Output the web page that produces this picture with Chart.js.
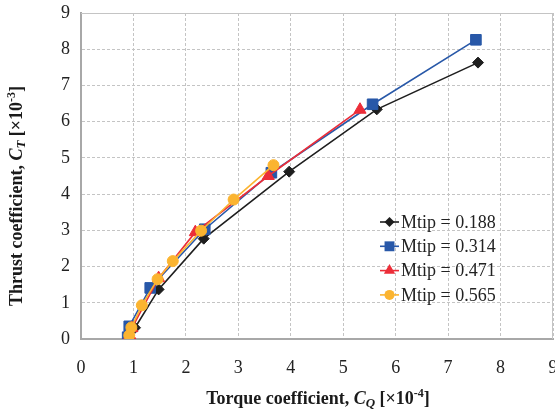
<!DOCTYPE html>
<html>
<head>
<meta charset="utf-8">
<script src="https://cdn.jsdelivr.net/npm/chart.js@4.4.1/dist/chart.umd.min.js"></script>
<style>
  html, body { margin: 0; padding: 0; background: #fff; }
  canvas { display: block; }
</style>
</head>
<body>
<canvas id="thrustChart" width="555" height="412"></canvas>
<script>
// Thrust vs torque coefficient for four tip Mach numbers
const seriesLabels = ["Mtip = 0.188", "Mtip = 0.314", "Mtip = 0.471", "Mtip = 0.565"];

const cq188 = [1.03, 1.48, 2.34, 3.97, 5.64, 7.57];
const ct188 = [0.31, 1.37, 2.77, 4.62, 6.34, 7.63];

const cq314 = [0.89, 0.92, 1.32, 2.36, 3.63, 5.56, 7.53];
const ct314 = [0.05, 0.35, 1.41, 3.03, 4.59, 6.48, 8.26];

const cq471 = [0.93, 0.97, 1.48, 2.18, 3.57, 5.32];
const ct471 = [0.10, 0.30, 1.68, 2.95, 4.50, 6.33];

const cq565 = [0.92, 0.96, 1.16, 1.46, 1.75, 2.29, 2.91, 3.67];
const ct565 = [0.10, 0.32, 0.93, 1.65, 2.15, 2.99, 3.85, 4.80];

const xTicks = [0, 1, 2, 3, 4, 5, 6, 7, 8, 9];
const yTicks = [0, 1, 2, 3, 4, 5, 6, 7, 8, 9];

const serif = "'Liberation Serif', 'Times New Roman', serif";

function toPoints(xs, ys) {
  return xs.map((x, i) => ({ x: x, y: ys[i] }));
}

const styles = [
  { color: "#1e1e1e", marker: "rectRot", radius: 5.5, order: 4 },
  { color: "#2858a8", marker: "rect", radius: 7.5, order: 3 },
  { color: "#ec2d38", marker: "triangle", radius: 7, order: 2 },
  { color: "#fbb430", marker: "circle", radius: 5.5, order: 1 }
];

const seriesData = [
  toPoints(cq188, ct188),
  toPoints(cq314, ct314),
  toPoints(cq471, ct471),
  toPoints(cq565, ct565)
];

const datasets = seriesData.map((pts, i) => ({
  label: seriesLabels[i],
  data: pts,
  showLine: true,
  borderColor: styles[i].color,
  backgroundColor: styles[i].color,
  borderWidth: 1.6,
  pointStyle: styles[i].marker,
  pointRadius: styles[i].radius,
  pointBorderWidth: 1,
  pointBackgroundColor: styles[i].color,
  pointBorderColor: styles[i].color,
  order: styles[i].order
}));

// small marker painter used by the legend
function drawMarker(ctx, style, x, y, r) {
  ctx.beginPath();
  if (style === "circle") {
    ctx.arc(x, y, r, 0, Math.PI * 2);
  } else if (style === "rect") {
    const s = r * Math.SQRT1_2;
    ctx.rect(x - s, y - s, 2 * s, 2 * s);
  } else if (style === "rectRot") {
    ctx.moveTo(x, y - r);
    ctx.lineTo(x + r, y);
    ctx.lineTo(x, y + r);
    ctx.lineTo(x - r, y);
    ctx.closePath();
  } else if (style === "triangle") {
    ctx.moveTo(x, y - r);
    ctx.lineTo(x + r * Math.sin(Math.PI / 3), y + r / 2);
    ctx.lineTo(x - r * Math.sin(Math.PI / 3), y + r / 2);
    ctx.closePath();
  }
  ctx.fill();
}

const boxLegend = {
  id: "boxLegend",
  afterDraw(chart) {
    const ctx = chart.ctx;
    ctx.save();
    ctx.font = "18px " + serif;
    ctx.textBaseline = "middle";
    ctx.textAlign = "left";
    seriesLabels.forEach((label, i) => {
      const y = 222 + i * 24.3;
      const st = styles[i];
      ctx.strokeStyle = st.color;
      ctx.fillStyle = st.color;
      ctx.lineWidth = 1.6;
      ctx.beginPath();
      ctx.moveTo(380, y);
      ctx.lineTo(399, y);
      ctx.stroke();
      drawMarker(ctx, st.marker, 389.5, y, st.marker === "rect" ? 7 : (st.marker === "triangle" ? 6.5 : 5));
      ctx.fillStyle = "#222";
      ctx.fillText(label, 401, y + 1);
    });
    ctx.restore();
  }
};

// axis titles with italic symbol, subscript and exponent
function drawRich(ctx, parts) {
  const widths = parts.map(p => {
    ctx.font = p.font;
    return ctx.measureText(p.text).width;
  });
  const total = widths.reduce((a, b) => a + b, 0);
  let x = -total / 2;
  parts.forEach((p, i) => {
    ctx.font = p.font;
    ctx.fillText(p.text, x, p.dy || 0);
    x += widths[i];
  });
}

const axisText = {
  id: "axisText",
  afterDraw(chart) {
    const ctx = chart.ctx;
    const b = "bold 18px " + serif;
    const bi = "italic bold 18px " + serif;
    const sm = "bold 12px " + serif;
    const smi = "italic bold 13px " + serif;
    ctx.save();
    ctx.fillStyle = "#1a1a1a";
    ctx.textBaseline = "alphabetic";
    ctx.textAlign = "left";

    // x tick labels, placed by the x scale (the last one runs off the canvas edge)
    const xs = chart.scales.x;
    ctx.font = "18px " + serif;
    ctx.textAlign = "center";
    ctx.fillStyle = "#222";
    xTicks.forEach(v => {
      ctx.fillText(String(v), xs.getPixelForValue(v), 373);
    });
    ctx.textAlign = "left";
    ctx.fillStyle = "#1a1a1a";

    ctx.save();
    ctx.translate(318, 404);
    drawRich(ctx, [
      { text: "Torque coefficient, ", font: b },
      { text: "C", font: bi },
      { text: "Q", font: smi, dy: 3 },
      { text: " [×10", font: b },
      { text: "-4", font: sm, dy: -7 },
      { text: "]", font: b }
    ]);
    ctx.restore();

    ctx.save();
    ctx.translate(22, 196);
    ctx.rotate(-Math.PI / 2);
    drawRich(ctx, [
      { text: "Thrust coefficient, ", font: b },
      { text: "C", font: bi },
      { text: "T", font: smi, dy: 3 },
      { text: " [×10", font: b },
      { text: "-3", font: sm, dy: -7 },
      { text: "]", font: b }
    ]);
    ctx.restore();

    // light frame on top and right of the plot area
    const a = chart.chartArea;
    ctx.strokeStyle = "#c4c4c4";
    ctx.lineWidth = 1;
    ctx.beginPath();
    ctx.moveTo(a.left, a.top + 0.5);
    ctx.lineTo(a.right - 0.5, a.top + 0.5);
    ctx.lineTo(a.right - 0.5, a.bottom);
    ctx.stroke();
    ctx.restore();
  }
};

new Chart(document.getElementById("thrustChart"), {
  type: "scatter",
  data: { datasets: datasets },
  plugins: [boxLegend, axisText],
  options: {
    responsive: false,
    animation: false,
    layout: { autoPadding: false, padding: { top: 13, right: 2, bottom: 0, left: 0 } },
    plugins: {
      legend: { display: false },
      tooltip: { enabled: false }
    },
    scales: {
      x: {
        type: "linear",
        min: 0,
        max: 9,
        afterBuildTicks(scale) {
          scale.ticks = xTicks.map(v => ({ value: v }));
        },
        afterFit(scale) {
          scale.height = 73;
        },
        ticks: { display: false },
        grid: { color: "#c4c4c4", lineWidth: 1, drawTicks: false },
        border: { color: "#a8a8a8", width: 2, dash: [3, 2] }
      },
      y: {
        type: "linear",
        min: 0,
        max: 9,
        afterBuildTicks(scale) {
          scale.ticks = yTicks.map(v => ({ value: v }));
        },
        afterFit(scale) {
          scale.width = 81;
          scale.paddingTop = 0;
          scale.paddingBottom = 0;
        },
        ticks: {
          color: "#222",
          font: { family: serif, size: 18 },
          padding: 11
        },
        grid: { color: "#c4c4c4", lineWidth: 1, drawTicks: false },
        border: { color: "#a8a8a8", width: 2, dash: [3, 2] }
      }
    }
  }
});
</script>
</body>
</html>
